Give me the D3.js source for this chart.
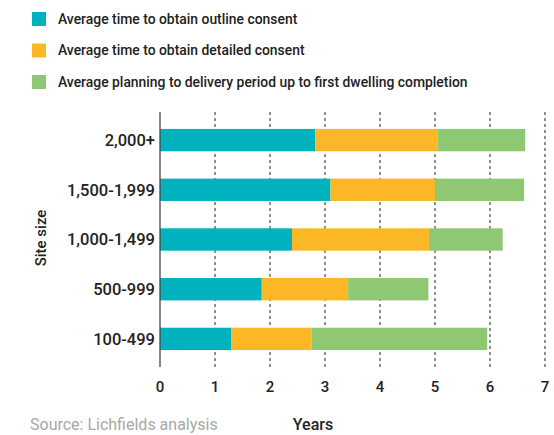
<!DOCTYPE html>
<html>
<head>
<meta charset="utf-8">
<script src="https://cdn.jsdelivr.net/npm/d3@7"></script>
<style>
  body { margin: 0; background: #fff; }
  text { font-family: Roboto, "Liberation Sans", sans-serif; }
</style>
</head>
<body>
<script>
var width = 554, height = 435;

// data
var sites = ["2,000+", "1,500-1,999", "1,000-1,499", "500-999", "100-499"];
var outline  = [2.82, 3.10, 2.40, 1.85, 1.30];
var detailed = [2.23, 1.90, 2.49, 1.57, 1.46];
var delivery = [1.59, 1.62, 1.34, 1.46, 3.19];
var seriesNames = ["Average time to obtain outline consent",
                   "Average time to obtain detailed consent",
                   "Average planning to delivery period up to first dwelling completion"];
var colors = ["#00b2bd", "#fbb726", "#8fc872"];
var xTicks = [0, 1, 2, 3, 4, 5, 6, 7];

var svg = d3.select("body").append("svg")
            .attr("width", width)
            .attr("height", height);

var x = d3.scaleLinear().domain([0, 7]).range([160, 545]);
var y = d3.scaleBand().domain(sites).range([115, 364]).paddingInner(0.55).paddingOuter(0.28);

// gridlines
svg.append("g").selectAll("line")
   .data(xTicks.slice(1))
   .enter().append("line")
   .attr("x1", function(d){ return x(d); })
   .attr("x2", function(d){ return x(d); })
   .attr("y1", 112)
   .attr("y2", 367)
   .attr("stroke", "#555")
   .attr("stroke-width", 1.3)
   .attr("stroke-dasharray", "3,3");

// stacked bars
var table = sites.map(function(s, i){
  return {site: s, a: outline[i], b: detailed[i], c: delivery[i]};
});
var stack = d3.stack().keys(["a", "b", "c"])(table);

svg.append("g").selectAll("g")
   .data(stack)
   .enter().append("g")
   .attr("fill", function(d, i){ return colors[i]; })
   .selectAll("rect")
   .data(function(d){ return d; })
   .enter().append("rect")
   .attr("x", function(d){ return x(d[0]); })
   .attr("width", function(d){ return x(d[1]) - x(d[0]); })
   .attr("y", function(d){ return y(d.data.site); })
   .attr("height", y.bandwidth());

// y axis line
svg.append("line")
   .attr("x1", x(0)).attr("x2", x(0))
   .attr("y1", 112).attr("y2", 367)
   .attr("stroke", "#444").attr("stroke-width", 1.3);

// y labels
svg.append("g").selectAll("text")
   .data(sites)
   .enter().append("text")
   .attr("x", 155)
   .attr("y", function(d){ return y(d) + y.bandwidth() / 2; })
   .attr("dy", "0.35em")
   .attr("text-anchor", "end")
   .style("font-size", "16.5px")
   .style("font-weight", 500)
   .attr("fill", "#222")
   .text(function(d){ return d; });

// x tick labels
svg.append("g").selectAll("text")
   .data(xTicks)
   .enter().append("text")
   .attr("x", function(d){ return x(d); })
   .attr("y", 392)
   .attr("text-anchor", "middle")
   .style("font-size", "15px")
   .style("font-weight", 500)
   .attr("fill", "#222")
   .text(function(d){ return d; });

// axis titles
svg.append("text")
   .attr("transform", "translate(46,238) rotate(-90)")
   .attr("text-anchor", "middle")
   .style("font-size", "15px")
   .style("font-weight", 500)
   .attr("fill", "#222")
   .text("Site size");

svg.append("text")
   .attr("x", 313).attr("y", 430)
   .attr("text-anchor", "middle")
   .style("font-size", "16px")
   .style("font-weight", 500)
   .attr("fill", "#222")
   .text("Years");

svg.append("text")
   .attr("x", 30).attr("y", 430)
   .style("font-size", "16px")
   .attr("fill", "#a8a8a8")
   .text("Source: Lichfields analysis");

// legend
var legend = svg.append("g").selectAll("g")
   .data(seriesNames)
   .enter().append("g")
   .attr("transform", function(d, i){ return "translate(32," + (12 + i * 31.5) + ")"; });

legend.append("rect")
   .attr("width", 14).attr("height", 14)
   .attr("fill", function(d, i){ return colors[i]; });

legend.append("text")
   .attr("x", 26).attr("y", 7)
   .attr("dy", "0.35em")
   .style("font-size", "13.9px")
   .style("font-weight", 500)
   .attr("fill", "#222")
   .text(function(d){ return d; });
</script>
</body>
</html>
